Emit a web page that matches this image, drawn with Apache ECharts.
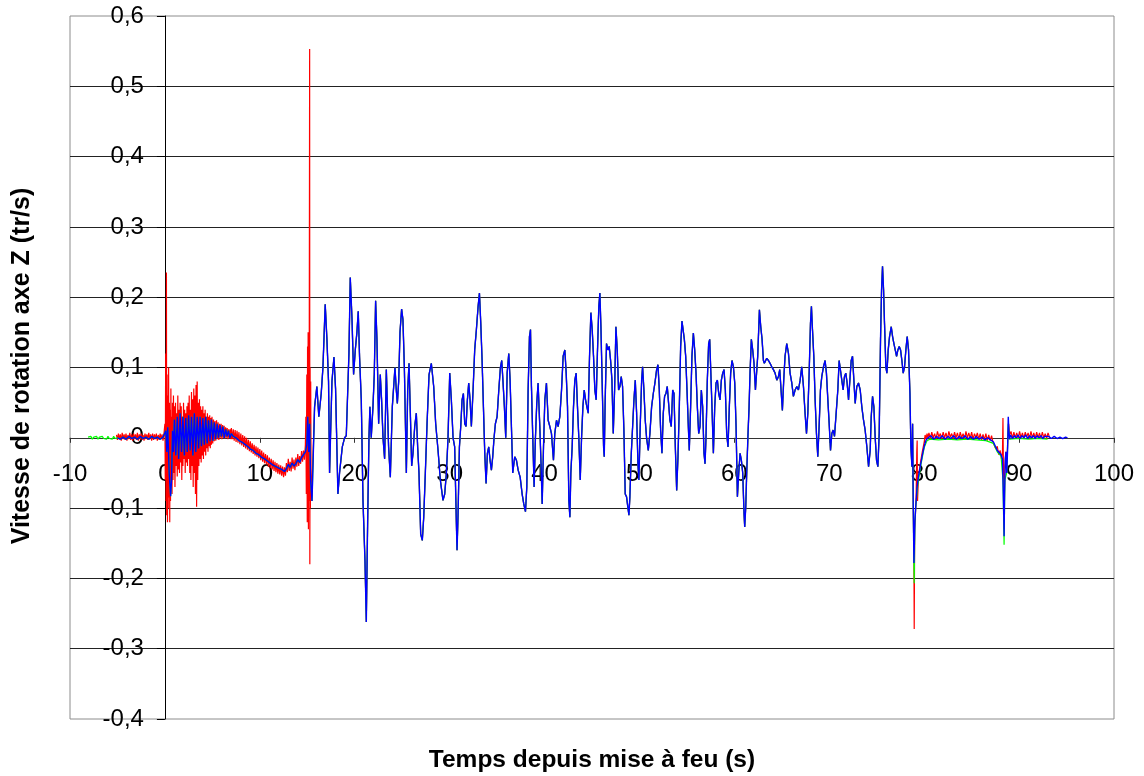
<!DOCTYPE html>
<html>
<head>
<meta charset="utf-8">
<script src="https://cdn.jsdelivr.net/npm/echarts@6/dist/echarts.min.js"></script>
<style>
  html, body { margin: 0; padding: 0; background: #fff; }
  #chart { width: 1144px; height: 776px; }
</style>
</head>
<body>
<div id="chart"></div>
<script>
// Axis ranges and titles
const xRange = [-10, 100];
const yRange = [-0.4, 0.6];
const xTitle = 'Temps depuis mise à feu (s)';
const yTitle = 'Vitesse de rotation axe Z (tr/s)';

// Gyro Z readings [t (s), tr/s]
// Blue sensor: pad, launch transient and drift up to 15 s
const blueLaunch = [
  [-5.0,0.0],[-4.7,-0.002],[-4.4,0.001],[-4.1,-0.002],[-3.8,0.002],[-3.5,-0.001],[-3.2,0.001],[-2.9,-0.002],
  [-2.6,0.002],[-2.3,-0.001],[-2.0,0.001],[-1.7,-0.002],[-1.4,0.002],[-1.1,-0.001],[-0.8,0.001],[-0.5,-0.002],
  [-0.2,0.001],[0.0,0.002],
  [0.1,0.01],[0.2,-0.02],[0.3,0.015],[0.45,-0.05],[0.6,-0.083],[0.7,-0.06],[0.8,0.01],[0.9,-0.02],
  [1.0,0.026],[1.15,-0.025],[1.3,0.03],[1.45,-0.03],[1.6,0.035],[1.75,-0.02],[1.9,0.03],[2.05,-0.025],
  [2.2,0.028],[2.35,-0.02],[2.5,0.032],[2.65,-0.018],[2.8,0.03],[2.95,-0.025],[3.1,0.035],[3.25,-0.02],
  [3.4,0.03],[3.55,-0.015],[3.7,0.03],[3.85,-0.012],[4.0,0.028],[4.15,-0.01],[4.3,0.03],[4.45,-0.008],
  [4.6,0.025],[4.75,-0.005],[4.9,0.026],[5.05,-0.004],[5.2,0.022],[5.35,-0.002],[5.5,0.02],[5.65,0.0],
  [5.8,0.018],[5.95,0.002],[6.1,0.016],[6.25,0.0],[6.4,0.012],[6.55,0.002],[6.7,0.01],[6.85,0.0],
  [7.0,0.006],[7.2,0.002],[7.5,0.0],[7.8,-0.004],[8.1,-0.006],[8.4,-0.009],[8.7,-0.012],[9.0,-0.016],
  [9.3,-0.018],[9.6,-0.022],[9.9,-0.024],[10.2,-0.028],[10.5,-0.03],[10.8,-0.033],[11.1,-0.036],[11.4,-0.039],
  [11.7,-0.041],[12.0,-0.043],[12.3,-0.045],[12.6,-0.048],[12.8,-0.044],[13.0,-0.038],[13.2,-0.042],[13.4,-0.036],
  [13.6,-0.04],[13.8,-0.037],[14.0,-0.031],[14.2,-0.035],[14.4,-0.028],[14.6,-0.027],[14.8,-0.02],[14.95,-0.01],
  [15.05,0.03],[15.15,-0.02],[15.25,0.02],[15.35,-0.06]
];

// Red sensor: pad noise
const redPad = [
  [-5.1,0.004],[-5.0,-0.003],[-4.9,0.006],[-4.8,-0.002],[-4.7,0.005],[-4.6,-0.004],[-4.5,0.007],[-4.4,-0.002],
  [-4.3,0.005],[-4.2,-0.003],[-4.1,0.006],[-4.0,-0.004],[-3.9,0.004],[-3.8,-0.002],[-3.7,0.007],[-3.6,-0.003],
  [-3.5,0.005],[-3.4,-0.004],[-3.3,0.006],[-3.2,-0.002],[-3.1,0.005],[-3.0,-0.003],[-2.9,0.007],[-2.8,-0.004],
  [-2.7,0.005],[-2.6,-0.002],[-2.5,0.006],[-2.4,-0.003],[-2.3,0.004],[-2.2,-0.004],[-2.1,0.006],[-2.0,-0.002],
  [-1.9,0.005],[-1.8,-0.003],[-1.7,0.007],[-1.6,-0.002],[-1.5,0.005],[-1.4,-0.004],[-1.3,0.006],[-1.2,-0.003],
  [-1.1,0.005],[-1.0,-0.002],[-0.9,0.006],[-0.8,-0.004],[-0.7,0.004],[-0.6,-0.003],[-0.5,0.006],[-0.4,-0.002],
  [-0.3,0.005],[-0.2,-0.004],[-0.1,0.006]
];

// Red sensor: vibration during the first seconds of flight
const redLaunch = [
  [0.00,0.02],[0.04,-0.06],[0.08,0.12],[0.12,-0.09],[0.16,0.235],[0.19,-0.11],[0.23,0.09],[0.27,-0.12],
  [0.31,0.06],[0.35,-0.10],[0.39,0.10],[0.43,-0.085],[0.47,0.05],[0.51,-0.12],[0.55,0.04],[0.59,-0.09],
  [0.63,0.07],[0.67,-0.07],[0.71,0.03],[0.75,-0.08],[0.80,0.05],[0.85,-0.06],[0.90,0.06],[0.95,-0.05],
  [1.00,0.045],[1.06,-0.07],[1.12,0.05],[1.18,-0.04],[1.24,0.035],[1.30,-0.055],[1.36,0.06],[1.42,-0.045],
  [1.48,0.04],[1.54,-0.05],[1.60,0.05],[1.66,-0.035],[1.72,0.045],[1.78,-0.06],[1.84,0.03],[1.90,-0.04],
  [1.96,0.05],[2.02,-0.03],[2.08,0.04],[2.14,-0.05],[2.20,0.035],[2.26,-0.035],[2.32,0.045],[2.38,-0.04],
  [2.44,0.05],[2.50,-0.03],[2.56,0.06],[2.62,-0.05],[2.68,0.04],[2.74,-0.06],[2.80,0.065],[2.86,-0.04],
  [2.92,0.055],[2.98,-0.07],[3.04,0.07],[3.10,-0.05],[3.16,0.06],[3.22,-0.08],[3.28,0.075],[3.34,-0.098],
  [3.40,0.08],[3.46,-0.06],[3.52,0.05],[3.58,-0.04],[3.64,0.055],[3.70,-0.03],[3.76,0.045],[3.82,-0.035],
  [3.88,0.04],[3.94,-0.025],[4.00,0.045],[4.06,-0.03],[4.12,0.035],[4.18,-0.02],[4.24,0.04],[4.30,-0.025],
  [4.36,0.03],[4.42,-0.015],[4.48,0.035],[4.54,-0.02],[4.60,0.03],[4.66,-0.012],[4.72,0.032],[4.78,-0.015],
  [4.84,0.028],[4.90,-0.01],[4.96,0.03],[5.04,-0.008],[5.12,0.026],[5.20,-0.005],[5.28,0.024],[5.36,-0.004],
  [5.44,0.025],[5.52,-0.002],[5.60,0.022],[5.68,-0.003],[5.76,0.02],[5.84,0.0],[5.92,0.02],[6.00,-0.002],
  [6.08,0.018],[6.16,0.0],[6.24,0.017],[6.32,-0.001],[6.40,0.015],[6.48,0.0],[6.56,0.014],[6.64,-0.002],
  [6.72,0.012],[6.80,0.0],[6.88,0.012],[6.96,-0.002]
];

// Red sensor: slow drift before the 15 s event
const redDrift = [
  [7.0,0.014],[7.1,-0.002],[7.2,0.012],[7.3,-0.004],[7.4,0.011],[7.5,-0.006],[7.6,0.01],[7.7,-0.007],
  [7.8,0.008],[7.9,-0.009],[8.0,0.006],[8.1,-0.011],[8.2,0.004],[8.3,-0.013],[8.4,0.002],[8.5,-0.015],
  [8.6,0.0],[8.7,-0.017],[8.8,-0.003],[8.9,-0.019],[9.0,-0.005],[9.1,-0.021],[9.2,-0.008],[9.3,-0.023],
  [9.4,-0.01],[9.5,-0.025],[9.6,-0.012],[9.7,-0.027],[9.8,-0.014],[9.9,-0.029],[10.0,-0.016],[10.1,-0.032],
  [10.2,-0.018],[10.3,-0.034],[10.4,-0.021],[10.5,-0.036],[10.6,-0.023],[10.7,-0.038],[10.8,-0.025],[10.9,-0.041],
  [11.0,-0.028],[11.1,-0.043],[11.2,-0.03],[11.3,-0.045],[11.4,-0.032],[11.5,-0.047],[11.6,-0.034],[11.7,-0.049],
  [11.8,-0.036],[11.9,-0.051],[12.0,-0.038],[12.1,-0.052],[12.2,-0.039],[12.3,-0.054],[12.4,-0.041],[12.5,-0.056],
  [12.6,-0.042],[12.7,-0.054],[12.8,-0.036],[12.9,-0.049],[13.0,-0.03],[13.1,-0.047],[13.2,-0.034],[13.3,-0.048],
  [13.4,-0.028],[13.5,-0.044],[13.6,-0.031],[13.7,-0.046],[13.8,-0.028],[13.9,-0.041],[14.0,-0.023],[14.1,-0.04],
  [14.2,-0.026],[14.3,-0.037],[14.4,-0.019],[14.5,-0.034],[14.6,-0.018],[14.7,-0.031],[14.8,-0.01]
];

// Red sensor: shock around 15 s
const redShock = [
  [14.85,0.03],[14.9,-0.08],[14.95,0.09],[15.0,-0.12],[15.03,0.13],[15.06,-0.06],[15.09,0.15],[15.12,-0.13],
  [15.15,0.12],[15.18,-0.09],[15.21,0.14],[15.25,0.553],[15.27,-0.18],[15.3,0.1],[15.33,-0.1],[15.36,0.08],
  [15.4,-0.05],[15.45,-0.09]
];

// Green sensor: pad before the other records start
const greenPad = [
  [-8.1,0.001],[-7.95,-0.001],[-7.8,0.002],[-7.65,-0.002],[-7.5,0.001],[-7.35,-0.001],[-7.2,0.002],[-7.05,-0.002],
  [-6.9,0.001],[-6.75,-0.001],[-6.6,0.002],[-6.45,-0.001],[-6.3,0.001],[-6.15,-0.002],[-6.0,0.002],[-5.85,-0.001],
  [-5.7,0.001],[-5.55,-0.002],[-5.4,0.002],[-5.25,-0.001],[-5.1,0.001]
];

// Flight oscillations, 15.5 s to 79 s (the three sensors overlap here)
const flightZ = [
  [15.5,-0.09],[15.77,0.044],[16.01,0.073],[16.22,0.03],[16.47,0.063],[16.65,0.10],[16.89,0.19],[17.07,0.14],
  [17.24,0.08],[17.35,-0.05],[17.6,0.08],[17.81,0.115],[17.98,0.07],[18.23,-0.08],[18.4,-0.05],[18.69,-0.013],
  [18.93,0.0],[19.11,0.003],[19.39,0.12],[19.53,0.228],[19.71,0.17],[19.88,0.09],[20.06,0.125],[20.23,0.15],
  [20.37,0.18],[20.51,0.115],[20.69,0.054],[20.87,-0.089],[21.08,-0.175],[21.22,-0.262],[21.36,-0.12],[21.5,0.0],
  [21.6,0.044],[21.74,0.0],[21.92,0.044],[22.06,0.09],[22.2,0.195],[22.34,0.14],[22.52,0.02],[22.69,0.09],
  [22.83,0.054],[22.98,0.0],[23.15,-0.03],[23.33,0.097],[23.57,-0.013],[23.75,-0.056],[23.96,0.044],[24.14,0.08],
  [24.24,0.10],[24.38,0.068],[24.49,0.049],[24.63,0.08],[24.77,0.15],[24.94,0.183],[25.08,0.168],[25.23,0.10],
  [25.44,-0.05],[25.58,0.068],[25.72,0.106],[25.86,0.035],[26.0,-0.04],[26.14,-0.022],[26.32,0.016],[26.49,0.035],
  [26.63,-0.013],[26.77,-0.05],[26.95,-0.137],[27.12,-0.146],[27.27,-0.113],[27.44,-0.05],[27.62,0.02],[27.83,0.09],
  [28.07,0.106],[28.32,0.073],[28.53,0.02],[28.78,-0.018],[29.02,-0.06],[29.3,-0.089],[29.48,-0.08],[29.66,-0.05],
  [29.83,0.0],[30.01,0.092],[30.18,0.054],[30.36,0.0],[30.53,-0.013],[30.71,-0.122],[30.78,-0.16],[30.89,-0.108],
  [31.03,-0.013],[31.17,0.016],[31.31,0.054],[31.45,0.063],[31.59,0.02],[31.73,0.016],[31.87,0.054],[32.01,0.078],
  [32.15,0.054],[32.29,0.016],[32.47,0.068],[32.64,0.125],[32.82,0.154],[33.0,0.187],[33.14,0.206],[33.28,0.163],
  [33.42,0.11],[33.56,0.044],[33.7,-0.022],[33.84,-0.065],[33.98,-0.022],[34.12,-0.013],[34.26,-0.032],[34.4,-0.046],
  [34.54,-0.027],[34.68,0.0],[34.82,0.02],[35.0,0.03],[35.18,0.068],[35.35,0.10],[35.49,0.11],[35.63,0.078],
  [35.77,0.044],[35.91,0.0],[36.06,0.092],[36.23,0.12],[36.37,0.082],[36.51,0.016],[36.65,-0.05],[36.86,-0.027],
  [37.04,-0.032],[37.22,-0.046],[37.43,-0.056],[37.64,-0.08],[37.81,-0.094],[37.99,-0.105],[38.13,-0.07],[38.27,0.068],
  [38.41,0.144],[38.52,0.154],[38.62,0.073],[38.76,0.0],[38.9,-0.07],[39.04,0.0],[39.18,0.049],[39.32,0.078],
  [39.5,0.016],[39.64,-0.041],[39.75,-0.094],[39.89,-0.013],[40.03,0.054],[40.2,0.078],[40.38,0.025],[40.56,0.016],
  [40.73,0.006],[40.94,-0.032],[41.08,0.006],[41.26,0.025],[41.43,0.016],[41.61,0.03],[41.79,0.068],[41.96,0.116],
  [42.14,0.125],[42.28,0.092],[42.42,0.044],[42.56,-0.089],[42.67,-0.113],[42.77,-0.05],[42.91,-0.013],[43.05,0.044],
  [43.19,0.082],[43.33,0.092],[43.47,0.044],[43.61,0.0],[43.76,-0.06],[43.9,0.0],[44.04,0.044],[44.18,0.068],
  [44.32,0.054],[44.46,0.044],[44.6,0.035],[44.74,0.116],[44.88,0.178],[45.02,0.154],[45.16,0.116],[45.3,0.068],
  [45.44,0.054],[45.58,0.125],[45.72,0.187],[45.83,0.206],[45.94,0.158],[46.08,0.073],[46.22,-0.013],[46.29,-0.027],
  [46.39,0.054],[46.53,0.134],[46.67,0.125],[46.81,0.13],[46.96,0.11],[47.1,0.082],[47.24,0.006],[47.38,0.068],
  [47.52,0.158],[47.66,0.125],[47.8,0.068],[47.94,0.073],[48.08,0.087],[48.22,0.073],[48.36,0.011],[48.5,-0.08],
  [48.64,-0.084],[48.78,-0.099],[48.89,-0.11],[48.99,-0.084],[49.14,-0.022],[49.28,0.016],[49.42,0.054],[49.56,0.082],
  [49.7,0.035],[49.84,-0.037],[49.94,-0.06],[50.08,0.016],[50.23,0.082],[50.33,0.101],[50.47,0.068],[50.61,0.025],
  [50.75,0.0],[50.93,-0.018],[51.1,0.006],[51.28,0.044],[51.46,0.063],[51.63,0.078],[51.81,0.097],[51.95,0.104],
  [52.09,0.068],[52.23,0.011],[52.37,-0.022],[52.51,0.035],[52.65,0.059],[52.79,0.063],[52.93,0.073],[53.07,0.049],
  [53.21,0.025],[53.35,0.016],[53.5,0.068],[53.64,0.063],[53.78,-0.013],[53.92,-0.075],[54.06,-0.027],[54.2,0.044],
  [54.34,0.13],[54.48,0.166],[54.59,0.168],[54.73,0.14],[54.87,0.116],[55.01,0.068],[55.15,0.016],[55.25,-0.018],
  [55.39,0.044],[55.53,0.116],[55.68,0.149],[55.82,0.125],[55.96,0.092],[56.1,0.044],[56.24,0.006],[56.38,0.016],
  [56.52,0.068],[56.66,0.044],[56.8,-0.022],[56.91,-0.037],[57.01,0.0],[57.15,0.082],[57.29,0.134],[57.4,0.14],
  [57.5,0.101],[57.64,0.044],[57.79,-0.022],[57.93,0.044],[58.07,0.078],[58.21,0.082],[58.35,0.063],[58.49,0.054],
  [58.63,0.082],[58.77,0.092],[58.91,0.097],[59.05,0.068],[59.19,0.006],[59.33,-0.013],[59.47,0.044],[59.61,0.092],
  [59.75,0.11],[59.9,0.101],[60.04,0.078],[60.18,0.016],[60.32,-0.084],[60.46,-0.05],[60.6,-0.022],[60.74,-0.032],
  [60.88,-0.05],[61.02,-0.108],[61.09,-0.127],[61.2,-0.098],[61.3,-0.05],[61.44,0.006],[61.55,0.044],[61.65,0.092],
  [61.79,0.14],[61.93,0.125],[62.07,0.106],[62.22,0.068],[62.46,0.116],[62.64,0.182],[62.78,0.158],[62.92,0.14],
  [63.06,0.11],[63.16,0.106],[63.41,0.113],[63.59,0.11],[63.76,0.106],[63.94,0.101],[64.11,0.097],[64.29,0.092],
  [64.47,0.082],[64.64,0.087],[64.78,0.097],[64.92,0.068],[65.06,0.039],[65.2,0.082],[65.34,0.116],[65.52,0.134],
  [65.7,0.12],[65.87,0.092],[66.05,0.078],[66.22,0.059],[66.4,0.068],[66.58,0.073],[66.75,0.068],[66.93,0.082],
  [67.1,0.101],[67.28,0.073],[67.45,0.035],[67.6,0.006],[67.74,0.035],[67.88,0.092],[68.02,0.163],[68.12,0.187],
  [68.23,0.154],[68.37,0.116],[68.51,0.054],[68.65,0.006],[68.79,-0.027],[68.93,0.016],[69.07,0.068],[69.21,0.087],
  [69.39,0.101],[69.56,0.11],[69.7,0.092],[69.85,0.054],[69.99,0.02],[70.13,-0.018],[70.27,0.006],[70.41,0.011],
  [70.55,0.002],[70.69,0.0],[70.9,0.068],[71.04,0.11],[71.18,0.11],[71.32,0.082],[71.46,0.068],[71.6,0.087],
  [71.74,0.092],[71.88,0.078],[72.03,0.054],[72.17,0.082],[72.31,0.11],[72.45,0.116],[72.59,0.082],[72.73,0.049],
  [72.9,0.073],[73.08,0.078],[73.26,0.068],[73.43,0.044],[73.61,0.025],[73.78,0.011],[73.96,-0.013],[74.14,-0.041],
  [74.31,-0.018],[74.42,0.03],[74.56,0.059],[74.7,0.044],[74.84,0.0],[74.98,-0.032],[75.12,-0.041],[75.26,0.006],
  [75.4,0.14],[75.51,0.211],[75.61,0.244],[75.72,0.211],[75.82,0.163],[75.96,0.101],[76.07,0.092],[76.21,0.125],
  [76.35,0.144],[76.53,0.158],[76.67,0.144],[76.81,0.134],[76.95,0.125],[77.09,0.116],[77.23,0.125],[77.37,0.13],
  [77.51,0.125],[77.65,0.11],[77.79,0.092],[77.93,0.101],[78.07,0.125],[78.21,0.144],[78.35,0.125],[78.5,0.063],
  [78.6,-0.013],[78.71,-0.041],[78.78,0.02],[78.85,-0.099],[78.92,-0.178]
];

// Landing phase and after, per sensor
const blueTail = [
  [79.02,-0.12],[79.1,-0.1],[79.25,-0.07],[79.4,-0.055],[79.6,-0.04],[79.8,-0.025],[80.0,-0.012],[80.2,-0.003],
  [80.4,0.0],[80.7,0.003],[81.0,-0.002],[81.3,0.002],[81.6,-0.001],[81.9,0.003],[82.2,-0.002],[82.5,0.002],
  [82.8,-0.001],[83.1,0.003],[83.4,-0.002],[83.7,0.002],[84.0,-0.001],[84.3,0.003],[84.6,-0.002],[84.9,0.002],
  [85.2,-0.002],[85.5,0.002],[85.8,-0.002],[86.1,0.001],[86.4,-0.003],[86.7,0.0],[87.0,-0.003],[87.3,-0.006],
  [87.5,-0.012],[87.7,-0.018],[87.9,-0.021],[88.1,-0.024],[88.25,-0.03],[88.32,-0.07],[88.38,-0.107],[88.42,-0.14],
  [88.47,-0.08],[88.55,-0.03],[88.62,-0.02],[88.7,-0.05],[88.78,-0.02],[88.86,0.03],[88.92,0.01],[89.0,-0.002],
  [89.1,0.004],[89.3,-0.001],[89.5,0.003],[89.7,0.0],[89.9,0.004],[90.1,-0.001],[90.3,0.003],[90.5,0.0],
  [90.7,0.004],[90.9,-0.001],[91.1,0.003],[91.3,0.0],[91.5,0.003],[91.7,-0.001],[91.9,0.003],[92.1,0.0],
  [92.3,0.003],[92.5,-0.001],[92.7,0.002],[92.9,0.0],[93.1,0.002],[93.4,-0.001],[93.7,0.002],[94.0,-0.001],
  [94.3,0.001],[94.6,-0.001],[94.9,0.001],[95.1,0.0]
];

const redTail = [
  [78.95,-0.272],[79.0,-0.13],[79.06,-0.115],[79.15,-0.085],[79.22,-0.02],[79.26,-0.004],[79.3,-0.09],[79.4,-0.055],
  [79.6,-0.036],[79.8,-0.02],[80.0,-0.006],[80.1,0.004],[80.2,-0.002],[80.3,0.006],[80.4,0.0],
  [80.5,0.007],[80.65,-0.001],[80.8,0.008],[80.95,0.0],[81.1,0.006],[81.25,-0.002],[81.4,0.009],[81.55,0.001],
  [81.7,0.006],[81.85,-0.001],[82.0,0.008],[82.15,0.0],[82.3,0.007],[82.45,-0.002],[82.6,0.009],[82.75,0.001],
  [82.9,0.006],[83.05,-0.001],[83.2,0.008],[83.35,0.0],[83.5,0.007],[83.65,-0.002],[83.8,0.008],[83.95,0.0],
  [84.1,0.006],[84.25,-0.002],[84.4,0.009],[84.55,0.0],[84.7,0.007],[84.85,-0.001],[85.0,0.008],[85.15,-0.002],
  [85.3,0.006],[85.45,0.0],[85.6,0.007],[85.75,-0.002],[85.9,0.006],[86.05,-0.003],[86.2,0.005],[86.35,-0.003],
  [86.5,0.006],[86.65,-0.004],[86.8,0.004],[86.95,-0.004],[87.1,0.003],[87.25,-0.006],[87.4,-0.004],[87.55,-0.016],
  [87.7,-0.012],[87.85,-0.024],[88.0,-0.018],[88.15,-0.03],[88.25,-0.02],[88.3,0.028],[88.36,-0.06],[88.42,-0.13],
  [88.5,-0.04],[88.6,-0.02],[88.7,-0.045],[88.8,-0.005],[88.9,0.02],[89.0,0.004],[89.15,0.009],[89.3,-0.001],
  [89.45,0.008],[89.6,0.0],[89.75,0.007],[89.9,-0.001],[90.05,0.009],[90.2,0.0],[90.35,0.007],[90.5,-0.001],
  [90.65,0.008],[90.8,0.001],[90.95,0.007],[91.1,-0.001],[91.25,0.009],[91.4,0.0],[91.55,0.007],[91.7,-0.001],
  [91.85,0.008],[92.0,0.0],[92.15,0.007],[92.3,-0.001],[92.45,0.008],[92.6,0.0],[92.75,0.006],[92.9,-0.001],
  [93.05,0.007],[93.2,0.001]
];

const greenTail = [
  [78.95,-0.207],[79.02,-0.12],[79.1,-0.1],[79.3,-0.07],[79.6,-0.042],[80.0,-0.014],[80.3,-0.004],[80.6,-0.002],
  [81.5,-0.003],[82.5,-0.002],[83.5,-0.003],[84.5,-0.002],[85.5,-0.003],[86.5,-0.004],[87.3,-0.008],[87.7,-0.02],
  [88.1,-0.026],[88.3,-0.06],[88.42,-0.152],[88.5,-0.06],[88.7,-0.05],[88.86,0.02],[89.0,-0.002],[90.0,-0.001],
  [91.0,-0.002],[92.0,-0.001],[93.0,-0.002]
];

const redData = [].concat(redPad, redLaunch, redDrift, redShock, flightZ, redTail);
const greenData = [].concat(greenPad, blueLaunch, flightZ, greenTail);
const blueData = [].concat(blueLaunch, flightZ, blueTail);

const FONT = '"Liberation Sans", Arial, sans-serif';

// Plot box (px) — both axes cross at the origin, so each axis is shifted
// from its default edge to the zero of the other axis.
const GRID = { left: 70, right: 30, top: 16, bottom: 57 };
const plotW = 1144 - GRID.left - GRID.right;
const plotH = 776 - GRID.top - GRID.bottom;
const yAxisShift = (0 - xRange[0]) / (xRange[1] - xRange[0]) * plotW;
const xAxisShift = (0 - yRange[0]) / (yRange[1] - yRange[0]) * plotH;

function decimalComma(v) {
  const r = Math.round(v * 10) / 10;
  if (r === 0) return '0';
  return r.toFixed(1).replace('.', ',');
}

function lineSeries(name, data, color, width) {
  return {
    name: name,
    type: 'line',
    data: data,
    showSymbol: false,
    symbol: 'none',
    silent: true,
    lineStyle: { color: color, width: width },
    emphasis: { disabled: true }
  };
}

const chart = echarts.init(document.getElementById('chart'), null, { renderer: 'canvas' });
chart.setOption({
  animation: false,
  backgroundColor: '#ffffff',
  grid: Object.assign({
    show: true, borderColor: '#8c8c8c', borderWidth: 1, backgroundColor: '#ffffff'
  }, GRID),
  xAxis: {
    type: 'value',
    position: 'bottom',
    offset: -xAxisShift,
    min: xRange[0], max: xRange[1], interval: 10,
    axisLine: { show: true, onZero: false, lineStyle: { color: '#333', width: 1 } },
    axisTick: { show: true, length: 5, lineStyle: { color: '#333' } },
    axisLabel: { color: '#000', fontSize: 24, fontFamily: FONT, margin: 25 },
    splitLine: { show: false }
  },
  yAxis: {
    type: 'value',
    position: 'left',
    offset: -yAxisShift,
    min: yRange[0], max: yRange[1], interval: 0.1,
    axisLine: { show: true, onZero: false, lineStyle: { color: '#000', width: 1 } },
    axisTick: { show: true, length: 8, lineStyle: { color: '#000' } },
    axisLabel: { color: '#000', fontSize: 24, fontFamily: FONT, margin: 21, formatter: decimalComma },
    splitLine: { show: true, showMinLine: false, showMaxLine: false, lineStyle: { color: '#222', width: 1 } }
  },
  series: [
    lineSeries('Z rouge', redData, '#ff0000', 1.2),
    lineSeries('Z vert', greenData, '#00ff00', 1.2),
    lineSeries('Z bleu', blueData, '#0000ff', 1.4)
  ],
  graphic: [
    {
      type: 'text', x: GRID.left + plotW / 2, y: 760, silent: true,
      style: { text: xTitle, fill: '#000', font: 'bold 24.5px ' + FONT, align: 'center', verticalAlign: 'middle' }
    },
    {
      type: 'text', x: 22, y: 366, rotation: Math.PI / 2, silent: true,
      style: { text: yTitle, fill: '#000', font: 'bold 25px ' + FONT, align: 'center', verticalAlign: 'middle' }
    }
  ]
});
</script>
</body>
</html>
